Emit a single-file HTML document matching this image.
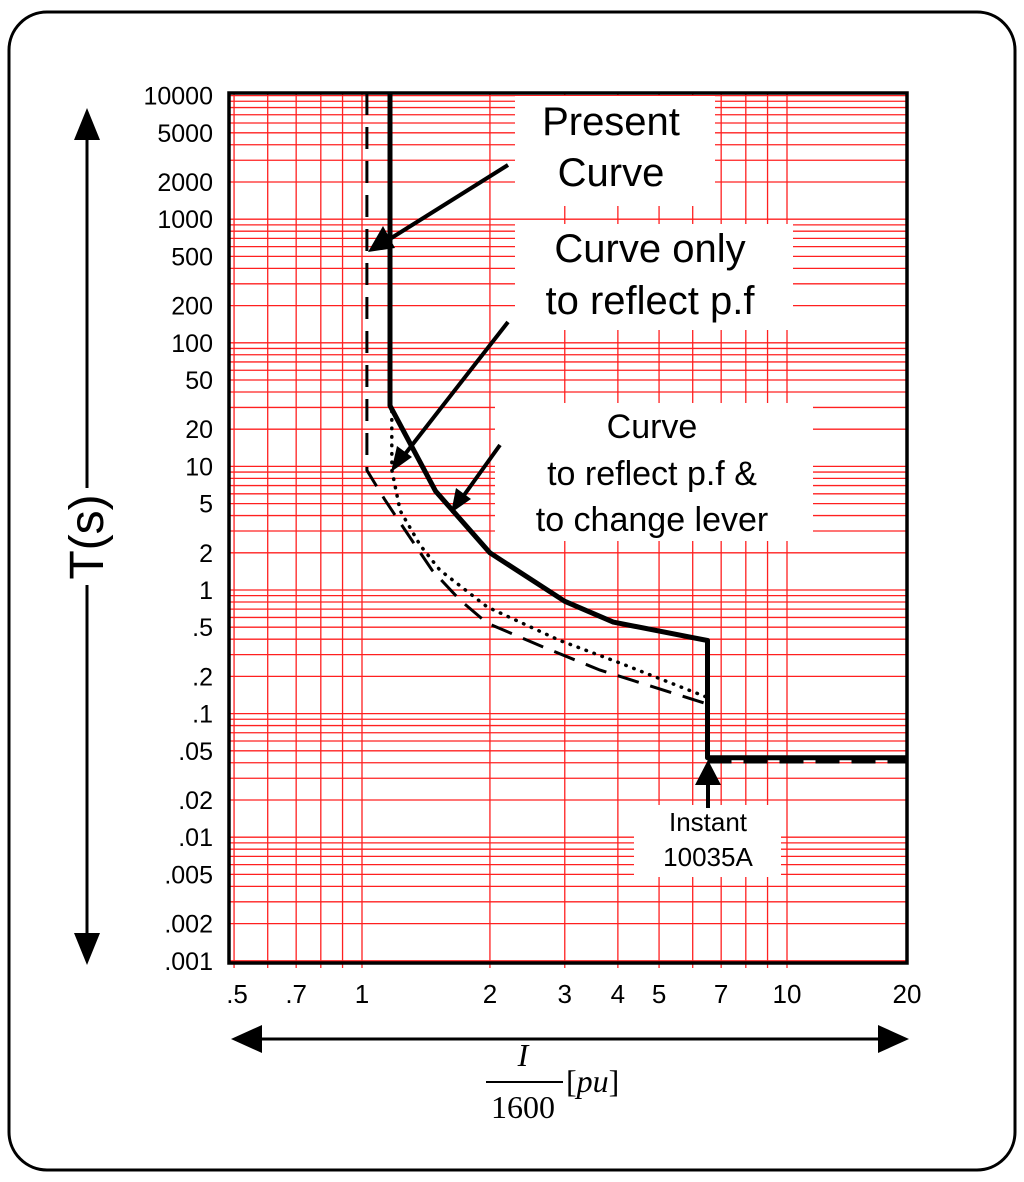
<!DOCTYPE html>
<html><head><meta charset="utf-8"><style>
html,body{margin:0;padding:0;background:#fff;}
svg{display:block;}
text{font-family:"Liberation Sans",sans-serif;}
</style></head><body>
<svg id="c" width="1024" height="1182" viewBox="0 0 1024 1182">
<rect x="9" y="12" width="1006" height="1158" rx="38" fill="#fff" stroke="#000" stroke-width="3"/>
<g id="grid"></g>
<g id="labels"></g>
<g id="series"></g>
<rect x="229" y="93" width="678" height="870" fill="none" stroke="#000" stroke-width="3.5"/>
<g id="boxes">
 <rect x="515" y="96" width="200" height="110" fill="#fff"/>
 <text x="611" y="135" font-size="40" text-anchor="middle">Present</text>
 <text x="611" y="186" font-size="40" text-anchor="middle">Curve</text>
 <rect x="515" y="224" width="278" height="106" fill="#fff"/>
 <text x="650" y="262" font-size="40" text-anchor="middle">Curve only</text>
 <text x="650" y="314" font-size="40" text-anchor="middle">to reflect p.f</text>
 <rect x="495" y="403" width="318" height="138" fill="#fff"/>
 <text x="652" y="438" font-size="34" text-anchor="middle">Curve</text>
 <text x="652" y="485" font-size="34" text-anchor="middle">to reflect p.f &amp;</text>
 <text x="652" y="531" font-size="34" text-anchor="middle">to change lever</text>
 <rect x="634" y="805" width="147" height="72" fill="#fff"/>
 <text x="708" y="831" font-size="26" text-anchor="middle">Instant</text>
 <text x="708" y="866" font-size="26" text-anchor="middle">10035A</text>
</g>
<g id="arrows" stroke="#000" stroke-width="4" fill="#000">
 <line x1="508" y1="165" x2="385" y2="242"/>
 <polygon points="368,252 383,226 395,248" stroke="none"/>
 <line x1="508" y1="322" x2="402" y2="458"/>
 <polygon points="391,472 397,446 412,457" stroke="none"/>
 <line x1="500" y1="445" x2="462" y2="498"/>
 <polygon points="451,513 456,488 471,499" stroke="none"/>
 <line x1="708" y1="808" x2="708" y2="775"/>
 <polygon points="708,760 695,785 721,785" stroke="none"/>
</g>
<g stroke="#000" stroke-width="3" fill="#000">
 <line x1="87" y1="125" x2="87" y2="488"/>
 <line x1="87" y1="585" x2="87" y2="945"/>
 <polygon points="87,108 74,140 100,140" stroke="none"/>
 <polygon points="87,965 74,933 100,933" stroke="none"/>
</g>
<text transform="translate(103,537) rotate(-90)" font-size="48" text-anchor="middle">T(s)</text>
<g stroke="#000" stroke-width="3" fill="#000">
 <line x1="250" y1="1039" x2="890" y2="1039"/>
 <polygon points="231,1039 262,1025 262,1053" stroke="none"/>
 <polygon points="909,1039 878,1025 878,1053" stroke="none"/>
</g>
<g>
 <text x="523" y="1066" font-size="32" text-anchor="middle" style="font-family:'Liberation Serif',serif;font-style:italic">I</text>
 <line x1="486" y1="1082" x2="563" y2="1082" stroke="#000" stroke-width="2"/>
 <text x="523" y="1118" font-size="32" text-anchor="middle" style="font-family:'Liberation Serif',serif">1600</text>
 <text x="566" y="1092" font-size="32" style="font-family:'Liberation Serif',serif">[<tspan style="font-style:italic">pu</tspan>]</text>
</g>
</svg>
<script>
const xTickValues=[0.5,0.7,1,2,3,4,5,7,10,20];
const xTickLabels=[".5",".7","1","2","3","4","5","7","10","20"];
const yTickValues=[10000,5000,2000,1000,500,200,100,50,20,10,5,2,1,0.5,0.2,0.1,0.05,0.02,0.01,0.005,0.002,0.001];
const yTickLabels=["10000","5000","2000","1000","500","200","100","50","20","10","5","2","1",".5",".2",".1",".05",".02",".01",".005",".002",".001"];
const presentX=[1.164,1.164,1.49,2.0,3.0,3.9,6.5,6.5,19.2];
const presentT=[10500,31,6.3,2.0,0.81,0.55,0.39,0.044,0.044];
const pfX=[1.175,1.175,1.176,1.229,1.37,1.525,1.97,2.92,4.05,6.47];
const pfT=[28,14,9.3,4.4,2.31,1.45,0.73,0.39,0.256,0.136];
const leverX=[1.027,1.027,1.133,1.262,1.461,1.70,1.97,2.70,3.63,6.47];
const leverT=[10500,9.3,5.35,3.06,1.45,0.83,0.54,0.34,0.225,0.12];
const leverInstX=[6.5,19.2];
const leverInstT=[0.041,0.041];

const X=v=>362+425*Math.log10(v);
const Y=v=>590-123.6*Math.log10(v);
const NS="http://www.w3.org/2000/svg";
function mk(tag,parent,attrs){const e=document.createElementNS(NS,tag);for(const k in attrs)e.setAttribute(k,attrs[k]);parent.appendChild(e);return e;}
const grid=document.getElementById('grid');
for(let d=-1;d<=1;d++){for(let m=1;m<=9;m++){const v=m*Math.pow(10,d);if(v<0.5||v>20)continue;const x=X(v);if(x<229||x>907)continue;
 const l=mk('line',grid,{x1:x,y1:93,x2:x,y2:968,stroke:'#ff2020','stroke-width':1.3});
 
 }}
for(let d=-3;d<=4;d++){for(let m=1;m<=9;m++){const v=m*Math.pow(10,d);if(v>10000.1)continue;const y=Y(v);if(y<93||y>963)continue;
 const l=mk('line',grid,{x1:229,y1:y,x2:907,y2:y,stroke:'#ff2020','stroke-width':1.3});
 
 }}
const lab=document.getElementById('labels');
xTickValues.forEach((v,i)=>{const t=mk('text',lab,{x:Math.min(907,X(v)+(i===0?3:0)),y:1003,'font-size':26,'text-anchor':'middle'});t.textContent=xTickLabels[i];
 
 });
yTickValues.forEach((v,i)=>{const t=mk('text',lab,{x:213,y:Y(v)+9,'font-size':25,'text-anchor':'end'});t.textContent=yTickLabels[i];
 
 });
const ser=document.getElementById('series');
function path(xs,ts){return xs.map((v,i)=>(i?'L':'M')+X(v).toFixed(1)+','+Y(ts[i]).toFixed(1)).join(' ');}
const p2=mk('path',ser,{d:path(leverX,leverT),fill:'none',stroke:'#000','stroke-width':3,'stroke-dasharray':'22,12'});


const p2b=mk('path',ser,{d:path(leverInstX,leverInstT),fill:'none',stroke:'#000','stroke-width':4,'stroke-dasharray':'24,12'});


const p3=mk('path',ser,{d:path(pfX,pfT),fill:'none',stroke:'#000','stroke-width':3.5,'stroke-dasharray':'0.5,8','stroke-linecap':'round'});


const p1=mk('path',ser,{d:path(presentX,presentT),fill:'none',stroke:'#000','stroke-width':5,'stroke-linejoin':'round'});


</script>
</body></html>
